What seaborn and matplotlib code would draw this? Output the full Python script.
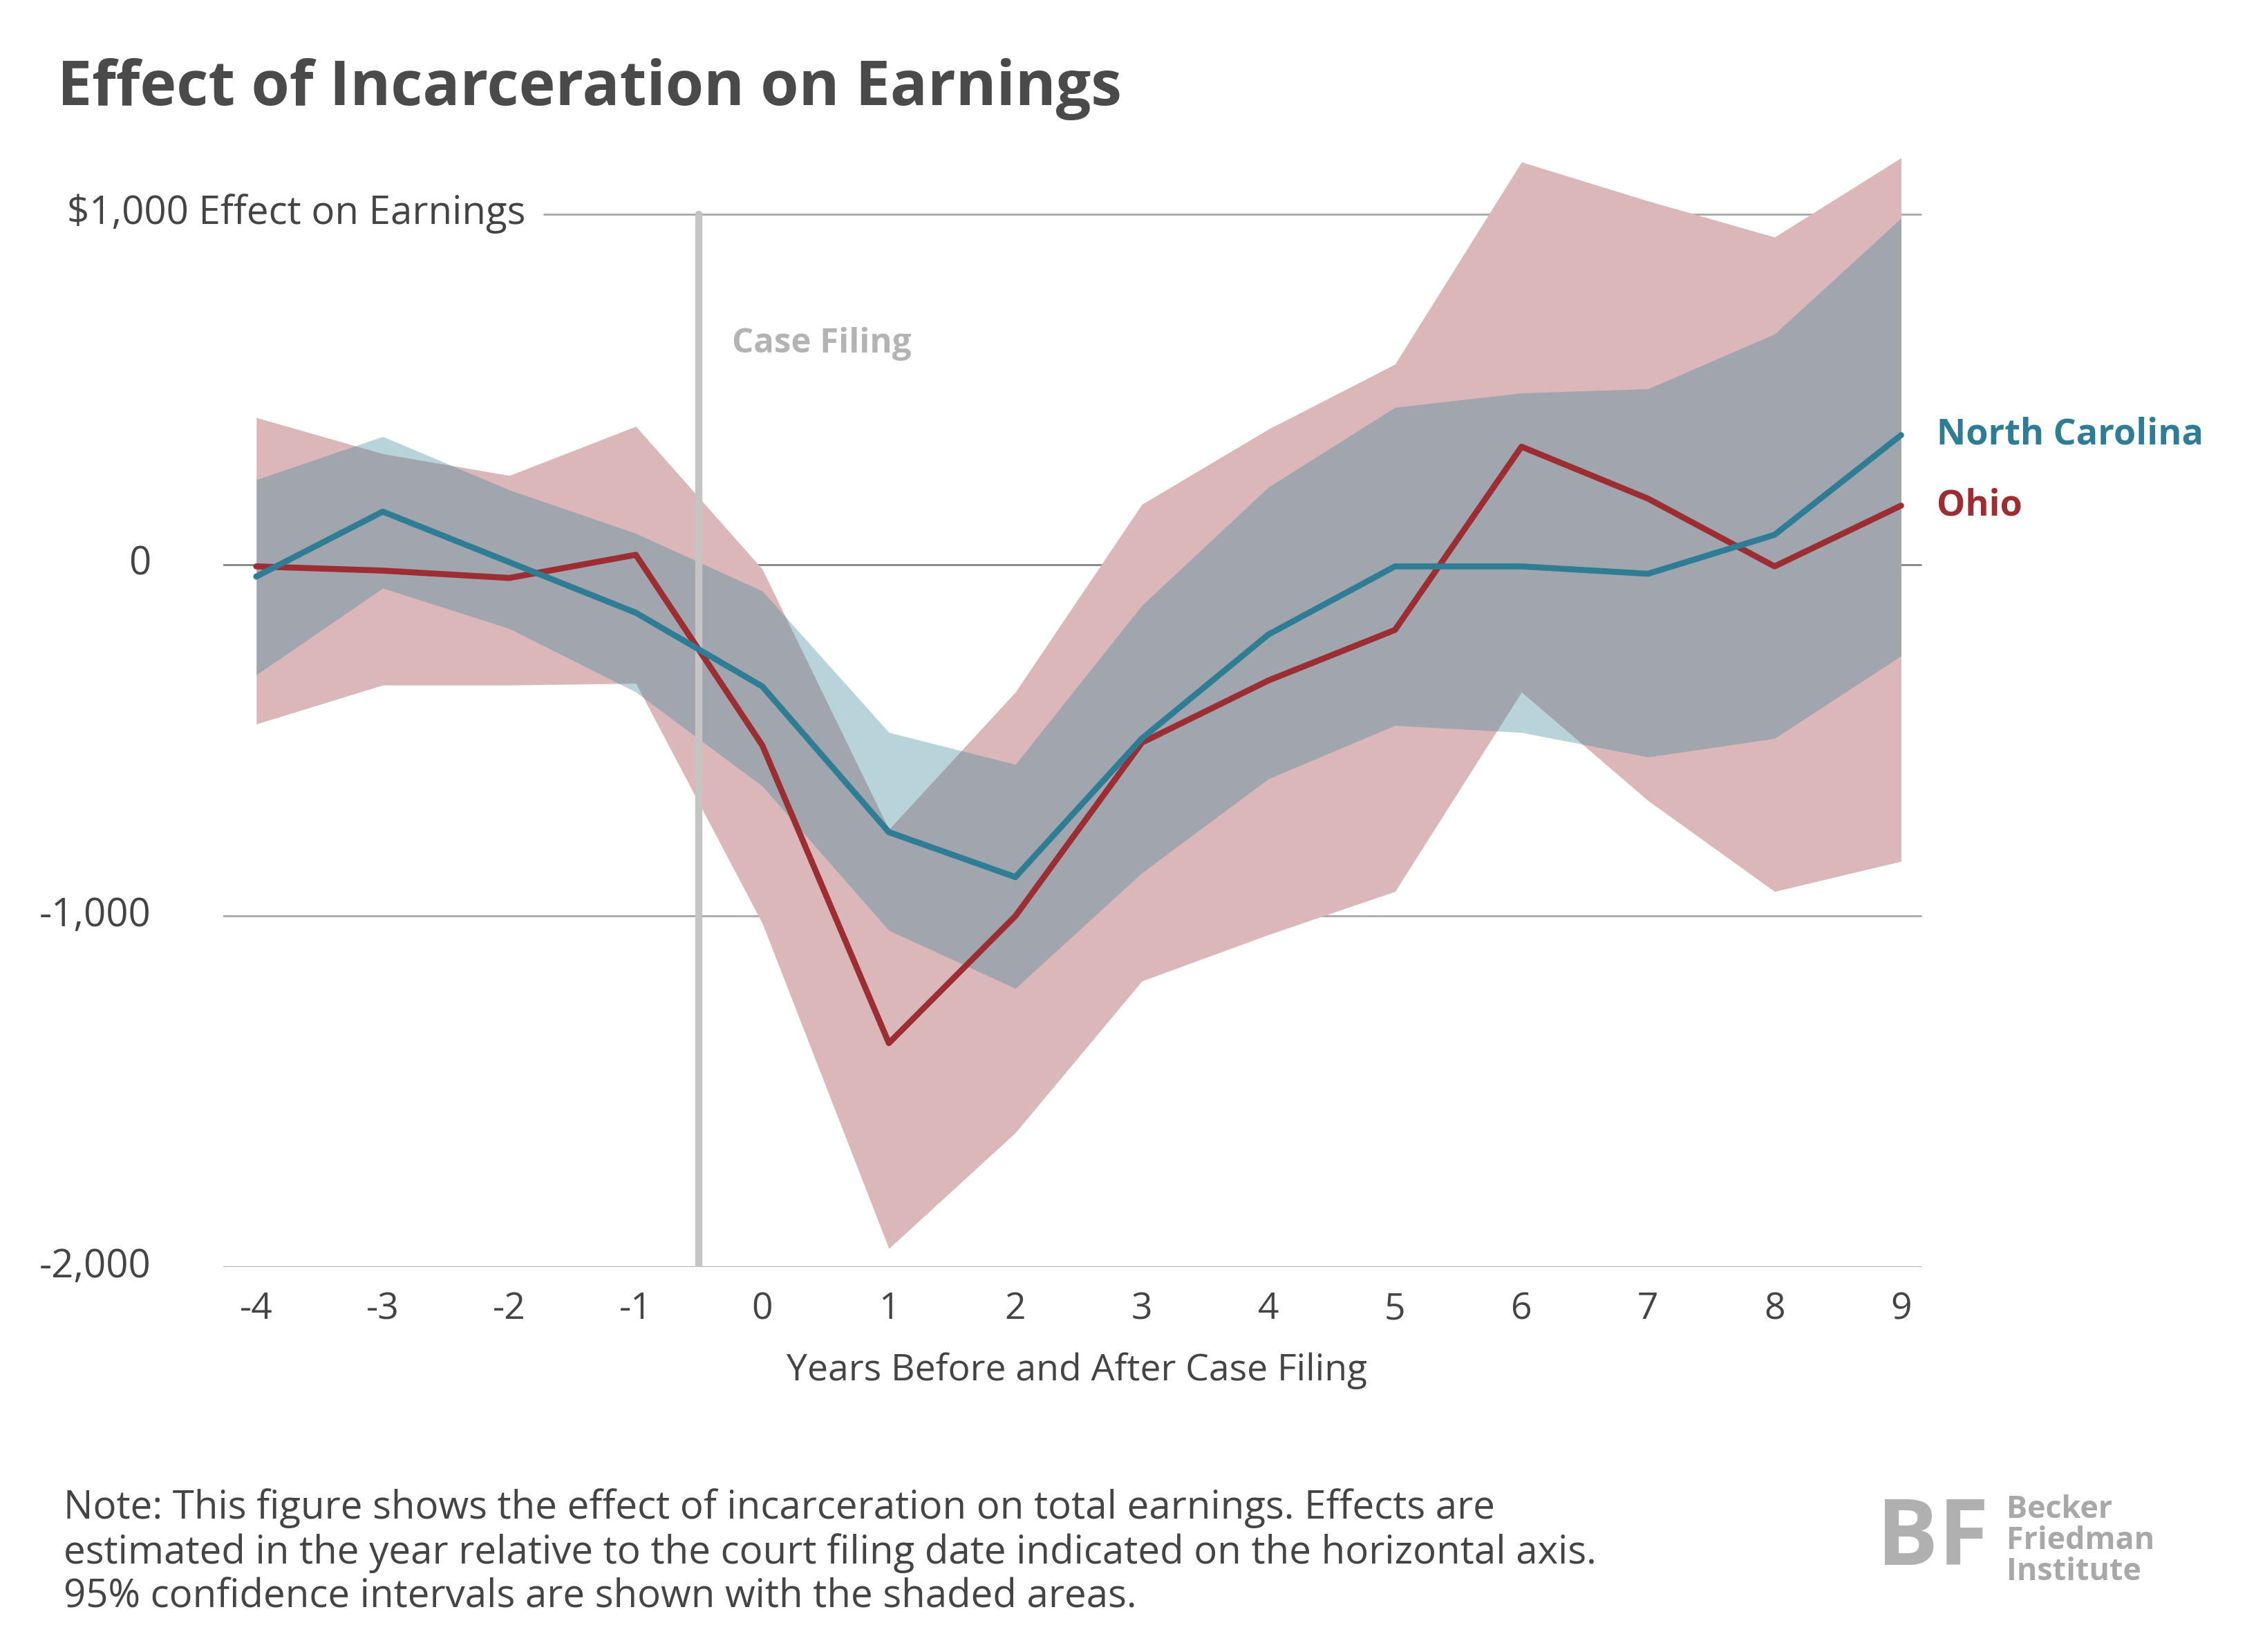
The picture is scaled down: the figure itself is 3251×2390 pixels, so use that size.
import matplotlib
matplotlib.use("Agg")
import matplotlib.pyplot as plt
import seaborn as sns
import pandas as pd

years = [-4, -3, -2, -1, 0, 1, 2, 3, 4, 5, 6, 7, 8, 9]
nc_est = [-33, 152, 8, -136, -346, -761, -889, -494, -198, -4, -4, -25, 86, 370]
nc_hi = [243, 366, 214, 90, -74, -477, -568, -115, 222, 449, 490, 502, 658, 988]
nc_lo = [-313, -66, -181, -362, -630, -1041, -1206, -877, -609, -457, -477, -547, -494, -259]
oh_est = [-4, -16, -37, 29, -514, -1362, -1000, -506, -329, -185, 337, 189, -4, 169]
oh_hi = [420, 317, 255, 395, -12, -753, -362, 173, 387, 572, 1148, 1037, 934, 1160]
oh_lo = [-453, -342, -342, -337, -1021, -1947, -1617, -1185, -1053, -930, -362, -671, -930, -844]
ytick_vals = [1000, 0, -1000, -2000]
ytick_labels = ["$1,000 Effect on Earnings", "0", "-1,000", "-2,000"]

sns.set_theme(style="white")
plt.rcParams['font.family'] = ['Open Sans', 'DejaVu Sans']

OH = "#9b2d33"
NC = "#2e7d95"
TXT = "#444444"
df = pd.DataFrame({"year": years * 2, "value": nc_est + oh_est,
                   "state": ["North Carolina"] * 14 + ["Ohio"] * 14})

fig = plt.figure(figsize=(3251 / 208.33, 2390 / 208.33), dpi=208.33)
ax = fig.add_axes([0.0994, 0.233, 0.7596, 0.68])

ax.fill_between(years, oh_lo, oh_hi, color="#dbb7ba", lw=0, zorder=1)
ax.fill_between(years, nc_lo, nc_hi, color="#368697", alpha=0.35, lw=0, zorder=2)

for v in ytick_vals:
    xmin = 0.188 if v == 1000 else 0
    ax.axhline(v, xmin=xmin, xmax=0.9945, color="#888888" if v == 0 else "#aaaaaa", lw=1.0, zorder=0)
ax.axvline(-0.5, ymin=0, ymax=3000 / 3200, color="#c4c4c4", lw=3.6, zorder=3)
ax.text(-0.24, 630, "Case Filing", color="#b3b3b3", fontsize=17, fontweight="bold", va="center")

sns.lineplot(data=df, x="year", y="value", hue="state", palette={"North Carolina": NC, "Ohio": OH},
             hue_order=["Ohio", "North Carolina"], lw=3, legend=False, ax=ax, zorder=4)

ax.text(9.28, 370, "North Carolina", color=NC, fontsize=18, fontweight="bold", va="center")
ax.text(9.28, 169, "Ohio", color=OH, fontsize=18, fontweight="bold", va="center")

ax.set_xlim(-4.26, 9.23)
ax.set_ylim(-2000, 1200)
ax.set_yticks([])
ax.set_xticks(years)
ax.set_xticklabels([str(y) for y in years], fontsize=18.5, color=TXT)
ax.tick_params(axis="x", length=0, pad=12)
for s in ax.spines.values():
    s.set_visible(False)
ax.set_xlabel("Years Before and After Case Filing", fontsize=18.5, color=TXT, labelpad=12)
ax.set_ylabel("")

for v, lab in zip(ytick_vals, ytick_labels):
    xr = 365 / 1560 if v == 1000 else 105 / 1560
    yf = 0.233 + 0.68 * (v + 2000) / 3200
    fig.text(xr, yf, lab, ha="right", va="center", fontsize=19.5, color=TXT)

fig.text(40 / 1560, 1 - 62 / 1147, "Effect of Incarceration on Earnings", fontsize=31,
         fontweight="bold", color="#4a4a4a", va="center")
fig.text(44 / 1560, 1 - 1078 / 1147,
         "Note: This figure shows the effect of incarceration on total earnings. Effects are\n"
         "estimated in the year relative to the court filing date indicated on the horizontal axis.\n"
         "95% confidence intervals are shown with the shaded areas.",
         fontsize=19.5, color=TXT, va="center", linespacing=1.15)
fig.text(1303 / 1560, 1 - 1070 / 1147, "BF", fontsize=46, fontweight="bold", color="#b0b0b0", va="center")
fig.text(1393 / 1560, 1 - 1070 / 1147, "Becker\nFriedman\nInstitute", fontsize=15.5,
         fontweight="bold", color="#a8a8a8", va="center", linespacing=1.0)

fig.savefig("out.png", dpi=208.33)
